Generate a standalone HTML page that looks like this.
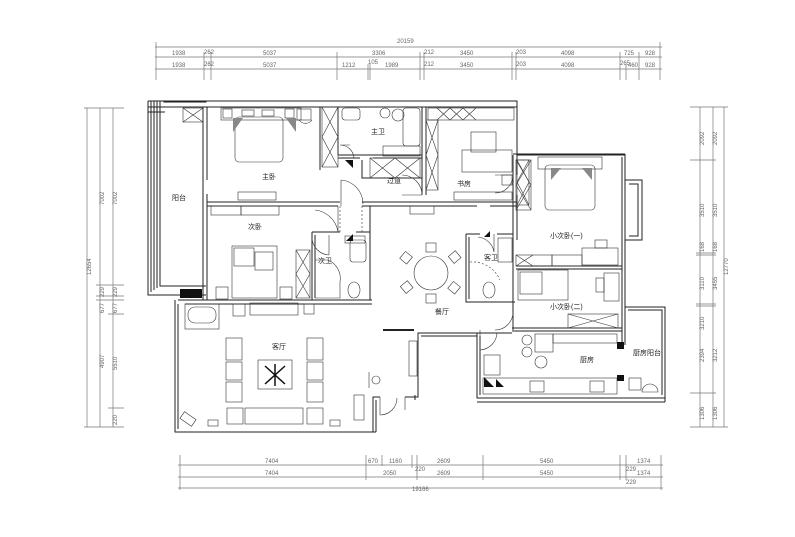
<!DOCTYPE html>
<html><head><meta charset="utf-8"><style>
html,body{margin:0;padding:0;background:#fff;}
svg{display:block}
text{font-family:"Liberation Sans","Noto Sans CJK SC",sans-serif;}
.d{font-size:6px;fill:#666}
.r{font-size:7px;fill:#222}
.s{font-size:3px;fill:#444}
</style></head><body>
<svg width="795" height="537" viewBox="0 0 795 537" xmlns="http://www.w3.org/2000/svg">
<rect width="795" height="537" fill="#fff"/>
<!-- top dimension lines -->
<g stroke="#777" stroke-width="0.7" fill="none">
<line x1="155" y1="47" x2="662" y2="47"/>
<line x1="155" y1="57" x2="662" y2="57"/>
<line x1="155" y1="69" x2="662" y2="69"/>
<path d="M156 42V80 M204 52V80 M211 52V80 M337 52V80 M368 64V80 M370 64V80 M420 52V80 M424 52V80 M512 52V80 M516 52V80 M620 52V80 M626 64V80 M639 52V80 M660 42V80"/>
</g>
<g class="d">
<text x="397" y="43">20159</text>
<text x="172" y="55">1938</text><text x="204" y="54">262</text><text x="263" y="55">5037</text><text x="372" y="55">3306</text><text x="424" y="54">212</text><text x="460" y="55">3450</text><text x="516" y="54">203</text><text x="561" y="55">4098</text><text x="624" y="55">725</text><text x="645" y="55">928</text>
<text x="172" y="67">1938</text><text x="204" y="66">262</text><text x="263" y="67">5037</text><text x="342" y="67">1212</text><text x="368" y="64">105</text><text x="385" y="67">1989</text><text x="424" y="66">212</text><text x="460" y="67">3450</text><text x="516" y="66">203</text><text x="561" y="67">4098</text><text x="620" y="65">265</text><text x="628" y="67">460</text><text x="645" y="67">928</text>
</g>
<!-- left dims -->
<g stroke="#777" stroke-width="0.7" fill="none">
<line x1="87" y1="108" x2="87" y2="427"/><line x1="100" y1="108" x2="100" y2="427"/><line x1="113" y1="108" x2="113" y2="427"/>
<path d="M84 108H124 M96 285H124 M96 296H124 M96 300H124 M108 314H124 M108 408H124 M84 427H124"/>
</g>
<g class="d">
<text transform="translate(91,275) rotate(-90)">12654</text>
<text transform="translate(104,205) rotate(-90)">7002</text><text transform="translate(117,205) rotate(-90)">7002</text>
<text transform="translate(104,297) rotate(-90)">229</text><text transform="translate(117,297) rotate(-90)">229</text>
<text transform="translate(104,313) rotate(-90)">677</text><text transform="translate(117,313) rotate(-90)">677</text>
<text transform="translate(104,368) rotate(-90)">4907</text><text transform="translate(117,370) rotate(-90)">5510</text>
<text transform="translate(117,425) rotate(-90)">220</text>
</g>
<!-- right dims -->
<g stroke="#777" stroke-width="0.7" fill="none">
<line x1="700" y1="107" x2="700" y2="427"/><line x1="713" y1="107" x2="713" y2="427"/><line x1="724" y1="107" x2="724" y2="427"/>
<path d="M690 107H728 M690 160H716 M696 253H716 M696 255H716 M696 304H716 M696 306H716 M690 393H716 M690 427H728"/>
</g>
<g class="d">
<text transform="translate(704,145) rotate(-90)">2092</text><text transform="translate(717,145) rotate(-90)">2092</text>
<text transform="translate(704,217) rotate(-90)">3510</text><text transform="translate(717,217) rotate(-90)">3510</text>
<text transform="translate(704,252) rotate(-90)">168</text><text transform="translate(717,252) rotate(-90)">168</text>
<text transform="translate(704,290) rotate(-90)">3110</text><text transform="translate(717,290) rotate(-90)">3455</text>
<text transform="translate(704,330) rotate(-90)">3210</text>
<text transform="translate(704,362) rotate(-90)">2394</text><text transform="translate(717,362) rotate(-90)">3212</text>
<text transform="translate(704,420) rotate(-90)">1306</text><text transform="translate(717,420) rotate(-90)">1306</text>
<text transform="translate(728,275) rotate(-90)">12770</text>
</g>
<!-- bottom dims -->
<g stroke="#777" stroke-width="0.7" fill="none">
<line x1="178" y1="465" x2="663" y2="465"/><line x1="178" y1="477" x2="663" y2="477"/><line x1="178" y1="488" x2="663" y2="488"/>
<path d="M180 455V490 M366 455V480 M382 455V466 M412 455V468 M417 455V480 M483 455V480 M620 455V480 M626 455V480 M661 455V490"/>
</g>
<g class="d">
<text x="265" y="463">7404</text><text x="368" y="463">670</text><text x="389" y="463">1160</text><text x="437" y="463">2609</text><text x="540" y="463">5450</text><text x="637" y="463">1374</text>
<text x="415" y="471">220</text><text x="626" y="471">229</text>
<text x="265" y="475">7404</text><text x="383" y="475">2050</text><text x="437" y="475">2609</text><text x="540" y="475">5450</text><text x="637" y="475">1374</text>
<text x="626" y="484">229</text><text x="412" y="491">19166</text>
</g>

<!-- walls -->
<g stroke="#222" stroke-width="1" fill="none">
<!-- outer top -->
<path d="M148 101H517V155H625V180 M148 107H206"/>
<path d="M206 107H517"/>
<!-- balcony -->
<path d="M148 101V295H206 M151 101V292 M154 101V290 M157 101V288 M160 101V286 H206 M148 112H165"/>
<rect x="164" y="101" width="42" height="1"/>
<!-- bedroom left wall -->
<path d="M203 107V300 M207 107V180 M207 194V300"/>
<!-- master bath/closet -->
<path d="M320 107V170 M338 107V155H422 M338 158H360 M373 158H422 M422 107V195 M426 107V195"/>
<path d="M362 160V178H422"/>
<!-- horizontal wall between rooms -->
<path d="M207 202H340 M207 206H338 M362 202H517 M362 206H477 M490 206H517"/>
<!-- 次卧 / 次卫 -->
<path d="M312 232V300 M315 235V298 M370 206V300 M312 232H340 M356 232H370"/>
<path d="M185 300H372 M185 304H372"/>
<!-- 书房 right -->
<path d="M517 101V155 M513 155V330 M517 155V175 M517 195V240"/>
<!-- 小次卧 -->
<path d="M513 154H625 M625 154V345 M622 157V345"/>
<path d="M625 180H642V240H625 M629 184H638V236H629"/>
<path d="M516 266H622 M516 269H622"/>
<path d="M512 328H622 M512 331H622"/>
<!-- 客卫 -->
<path d="M466 234V302H515 M469 237V299 M466 234H480 M497 234H513"/>
<!-- kitchen -->
<path d="M477 333H512 M477 333V398H665V307H625 M480 336V395 M628 310H662V395 M625 307V345"/>
<path d="M477 402H665 M665 307V402"/>
<!-- living -->
<path d="M175 300V432H373V397H380 M178 304V429 M178 300H185"/>
<path d="M373 432H376 M376 432V400 M405 397H418V333H477 M415 400V395 M421 336H477"/>
<path d="M418 397V336"/>
<path d="M383 330H414" stroke-width="2"/>
</g>
<rect x="180" y="289" width="22" height="9" fill="#111"/>
<rect x="617" y="342" width="7" height="7" fill="#111"/>
<rect x="617" y="375" width="7" height="6" fill="#111"/>

<!-- doors -->
<g stroke="#333" stroke-width="0.6" fill="none">
<path d="M341 180V206 M341 180A24 24 0 0 1 363 204"/>
<path d="M338 206V232 M338 232A26 26 0 0 0 315 210"/>
<path d="M340 145H350 M340 145A14 14 0 0 1 354 158"/>
<path d="M422 195H402 M422 195A20 20 0 0 0 402 175"/>
<path d="M513 175H495 M513 175A18 18 0 0 1 495 193" />
<path d="M513 330V312 M513 312A18 18 0 0 1 495 330"/>
<path d="M480 330V350 M480 350A18 18 0 0 0 497 333"/>
<path d="M494 234V252 M494 252A18 18 0 0 0 478 237"/>
<path d="M329 235V255 M329 255A18 18 0 0 1 312 238"/>
<path d="M380 397V415 M380 415A17 17 0 0 0 397 398 M405 397V410"/>
<path d="M340 206V232 M362 206V232" stroke-dasharray="2 2"/>
</g>

<!-- furniture -->
<g stroke="#333" stroke-width="0.6" fill="none">
<!-- master bed -->
<rect x="235" y="117" width="48" height="45" rx="4"/>
<rect x="221" y="108" width="80" height="12"/>
<rect x="223" y="109" width="9" height="9"/><rect x="285" y="109" width="9" height="9"/>
<rect x="242" y="110" width="12" height="6"/><rect x="262" y="110" width="12" height="6"/>
<rect x="297" y="109" width="14" height="11"/><path d="M299 120A8 8 0 0 0 312 120"/>
<rect x="238" y="192" width="38" height="8"/>
<!-- balcony boxes -->
<rect x="183" y="108" width="20" height="14"/><path d="M183 108L203 122M203 108L183 122"/>
<!-- closets with X -->
<rect x="322" y="107" width="16" height="60"/><path d="M322 107L338 137M338 107L322 137M322 137L338 167M338 137L322 167"/>
<rect x="370" y="158" width="50" height="20"/><path d="M370 158L395 178M395 158L370 178M395 158L420 178M420 158L395 178"/>
<rect x="426" y="120" width="12" height="70"/><path d="M426 120L438 155M438 120L426 155M426 155L438 190M438 155L426 190"/>
<rect x="428" y="108" width="86" height="12"/><path d="M437 108L450 120M450 108L437 120M450 108L463 120M463 108L450 120M463 108L476 120M476 108L463 120"/>
<rect x="517" y="160" width="12" height="45"/><path d="M517 160L529 182M529 160L517 182M517 182L529 205M529 182L517 205"/>
<!-- master bath -->
<rect x="342" y="108" width="18" height="12" rx="3"/><circle cx="385" cy="113" r="5"/><circle cx="398" cy="115" r="6"/>
<rect x="403" y="108" width="17" height="38" rx="3"/><rect x="383" y="146" width="37" height="10"/>
<!-- 书房 -->
<rect x="471" y="132" width="25" height="20"/><rect x="462" y="150" width="50" height="22"/>
<rect x="454" y="192" width="58" height="8"/><rect x="502" y="175" width="10" height="10"/>
<rect x="410" y="206" width="24" height="8"/>
<!-- 次卧 -->
<rect x="211" y="206" width="30" height="9"/><rect x="241" y="206" width="38" height="9"/>
<rect x="232" y="246" width="45" height="52"/><rect x="234" y="248" width="20" height="18"/><rect x="255" y="252" width="18" height="18"/>
<rect x="216" y="287" width="12" height="12"/><rect x="280" y="287" width="12" height="12"/>
<rect x="296" y="250" width="14" height="48"/><path d="M296 250L310 274M310 250L296 274M296 274L310 298M310 274L296 298"/>
<!-- 次卫 -->
<rect x="350" y="240" width="16" height="22" rx="3"/><rect x="345" y="236" width="20" height="7"/>
<path d="M315 282V260H328A20 20 0 0 1 340 282V298H315"/><ellipse cx="354" cy="290" rx="6" ry="8"/>
<!-- dining -->
<circle cx="431" cy="273" r="17"/>
<rect x="426" y="243" width="10" height="9"/><rect x="426" y="294" width="10" height="9"/>
<rect x="402" y="253" width="9" height="9" transform="rotate(40 406 257)"/><rect x="450" y="253" width="9" height="9" transform="rotate(-40 454 257)"/>
<rect x="402" y="283" width="9" height="9" transform="rotate(-40 406 287)"/><rect x="450" y="283" width="9" height="9" transform="rotate(40 454 287)"/>
<!-- 客卫 -->
<rect x="498" y="238" width="14" height="24"/><ellipse cx="489" cy="290" rx="6" ry="8"/><path d="M470 262A30 30 0 0 1 500 280" stroke-dasharray="2 2"/>
<!-- 小次卧一 -->
<rect x="545" y="165" width="50" height="45" rx="4"/><rect x="538" y="157" width="64" height="12"/>
<rect x="516" y="160" width="15" height="50"/><path d="M516 160L531 185M531 160L516 185M516 185L531 210M531 185L516 210"/>
<rect x="582" y="248" width="36" height="17"/><rect x="595" y="240" width="12" height="8"/>
<rect x="516" y="255" width="36" height="11"/><path d="M516 255L533 266M533 255L516 266"/><rect x="552" y="255" width="30" height="11"/>
<!-- 小次卧二 -->
<rect x="518" y="270" width="50" height="30"/><rect x="520" y="272" width="22" height="22"/>
<rect x="604" y="273" width="15" height="28"/><rect x="596" y="278" width="8" height="14"/>
<rect x="568" y="314" width="50" height="14"/><path d="M568 314L618 328M618 314L568 328"/>
<!-- kitchen -->
<rect x="535" y="334" width="18" height="18"/><rect x="553" y="334" width="64" height="9"/>
<circle cx="527" cy="340" r="5"/><circle cx="527" cy="352" r="5"/><circle cx="541" cy="362" r="6"/>
<rect x="484" y="355" width="16" height="20"/><rect x="483" y="378" width="134" height="16"/>
<rect x="530" y="381" width="14" height="11"/><rect x="590" y="381" width="14" height="11"/>
<rect x="629" y="378" width="12" height="12"/><path d="M642 392A8 8 0 0 1 658 392Z"/>
<!-- living -->
<rect x="185" y="304" width="34" height="25"/><rect x="188" y="307" width="28" height="16" rx="7"/>
<rect x="233" y="304" width="12" height="12"/><rect x="250" y="303" width="48" height="12"/><rect x="304" y="304" width="10" height="10"/>
<rect x="226" y="338" width="16" height="22"/><rect x="226" y="362" width="16" height="18"/><rect x="226" y="382" width="16" height="20"/>
<rect x="307" y="338" width="16" height="22"/><rect x="307" y="362" width="16" height="18"/><rect x="307" y="382" width="16" height="20"/>
<rect x="258" y="360" width="34" height="29"/>
<rect x="227" y="408" width="16" height="16"/><rect x="245" y="408" width="58" height="16"/><rect x="307" y="408" width="16" height="16"/>
<rect x="208" y="420" width="10" height="6"/><rect x="330" y="420" width="10" height="6"/>
<rect x="181" y="415" width="14" height="8" transform="rotate(35 188 419)"/>
<rect x="409" y="341" width="8" height="35"/><rect x="354" y="395" width="10" height="25"/>
<circle cx="376" cy="380" r="4"/><path d="M369 372V388"/>
</g>
<path d="M265 366L285 384M285 366L265 384M275 364V386" stroke="#111" stroke-width="1.5"/>
<path d="M233 118L243 118L233 132Z M296 118L286 118L296 132Z M551 168L561 168L551 180Z M592 168L582 168L592 180Z" fill="#888"/>
<path d="M345 160h8v8z M346 241h7v-7z M484 387h10l-10 -10z M496 387h8l-8 -8z M484 237h6v-6z" fill="#111"/>

<!-- room labels -->
<g class="r">
<text x="262" y="179">主卧</text>
<text x="371" y="134">主卫</text>
<text x="387" y="183">过道</text>
<text x="457" y="186">书房</text>
<text x="172" y="200">阳台</text>
<text x="248" y="229">次卧</text>
<text x="318" y="263">次卫</text>
<text x="484" y="260">客卫</text>
<text x="435" y="314">餐厅</text>
<text x="272" y="349">客厅</text>
<text x="550" y="238">小次卧(一)</text>
<text x="550" y="309">小次卧(二)</text>
<text x="580" y="362">厨房</text>
<text x="633" y="355">厨房阳台</text>
</g>
</svg>
</body></html>
